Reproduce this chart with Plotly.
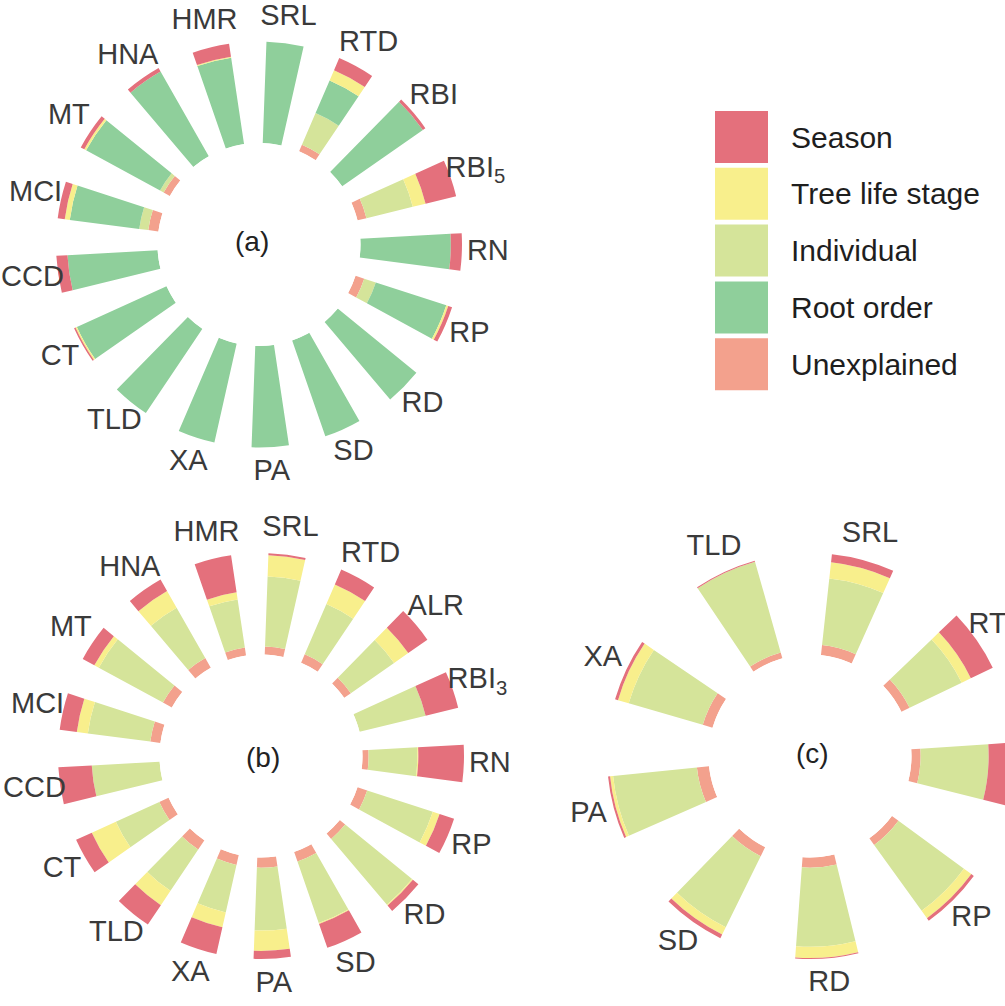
import plotly.graph_objects as go

# colours of the five variance components
PALETTE = {
    "Season": "#E4707C",
    "Tree life stage": "#F8EF8C",
    "Individual": "#D5E49A",
    "Root order": "#8FCF9B",
    "Unexplained": "#F3A18D",
}

# panel (a): percentages explained, inner -> outer
a_traits = ["SRL", "RTD", "RBI", "RBI<sub>5</sub>", "RN", "RP", "RD", "SD", "PA",
            "XA", "TLD", "CT", "CCD", "MCI", "MT", "HNA", "HMR"]
a_unexplained = [0, 7, 0, 9, 0, 9, 0, 0, 0, 0, 0, 0, 0, 10, 7, 0, 0]
a_individual = [0, 34, 0, 47, 0, 12, 0, 0, 0, 0, 0, 0, 0, 9, 4, 0, 0]
a_root_order = [100, 35, 97, 0, 89, 73, 100, 100, 100, 100, 100, 97, 89, 69, 83, 96, 86]
a_tree_stage = [0, 11, 0, 13, 0, 2, 0, 0, 0, 0, 0, 1.5, 0, 5, 2, 0, 1]
a_season = [0, 13, 3, 31, 11, 4, 0, 0, 0, 0, 0, 1.5, 11, 7, 4, 4, 13]

# panel (b)
b_traits = ["SRL", "RTD", "ALR", "RBI<sub>3</sub>", "RN", "RP", "RD", "SD", "PA",
            "XA", "TLD", "CT", "CCD", "MCI", "MT", "HNA", "HMR"]
b_unexplained = [8, 9, 8, 0, 6, 10, 7, 10, 10, 10, 11, 10, 0, 10, 10, 11, 8]
b_individual = [69, 54, 52, 67, 48, 68, 85, 64, 62, 48, 49, 47, 67, 62, 72, 57, 48]
b_tree_stage = [21, 21, 17, 0, 1, 7, 1, 1, 20, 15, 17, 26, 0, 11, 5, 19, 7]
b_season = [2, 16, 23, 33, 45, 15, 7, 25, 8, 27, 23, 17, 33, 17, 13, 13, 37]

# panel (c)
c_traits = ["SRL", "RTD", "RN", "RP", "RD", "SD", "PA", "XA", "TLD"]
c_unexplained = [10, 9, 9, 8, 10, 10, 12, 10, 6]
c_individual = [66, 57, 67, 80, 78, 78, 83, 76, 93]
c_tree_stage = [16, 10, 0, 9, 11, 8, 3, 11, 0]
c_season = [8, 24, 24, 3, 1, 4, 2, 3, 1]

LEGEND_ORDER = ["Season", "Tree life stage", "Individual", "Root order", "Unexplained"]

panels = [
    ("polar", a_traits, [("Unexplained", a_unexplained), ("Individual", a_individual),
                         ("Root order", a_root_order), ("Tree life stage", a_tree_stage),
                         ("Season", a_season)]),
    ("polar2", b_traits, [("Unexplained", b_unexplained), ("Individual", b_individual),
                          ("Tree life stage", b_tree_stage), ("Season", b_season)]),
    ("polar3", c_traits, [("Unexplained", c_unexplained), ("Individual", c_individual),
                          ("Tree life stage", c_tree_stage), ("Season", c_season)]),
]

# geometry (screen pixels): ring from 101.5 px to 203 px, names centred at 229 px
W, H = 1045, 1006   # a bit wider than the window so panel (c) runs off the edge
INNER, OUTER, NAME_AT, DOMAIN_R = 101.5, 203.0, 229.0, 231.0
R_MAX = 100 * (DOMAIN_R - INNER) / (OUTER - INNER)
LABEL_R = 100 * (NAME_AT - INNER) / (OUTER - INNER)


def px(x, y):
    """screen pixel -> paper coordinate"""
    return x / W, 1 - y / H


fig = go.Figure()

for subplot, traits, stack in panels:
    width = 0.45 if subplot == "polar3" else 0.5
    for name, values in stack:
        fig.add_trace(go.Barpolar(
            r=values,
            theta=traits,
            name=name,
            subplot=subplot,
            width=width,
            marker=dict(color=PALETTE[name], line=dict(width=0)),
            showlegend=False,
            hoverinfo="theta+r+name",
        ))
    # trait names around the ring, centred like the original
    fig.add_trace(go.Scatterpolar(
        r=[LABEL_R] * len(traits),
        theta=traits,
        mode="text",
        text=traits,
        textposition="middle center",
        textfont=dict(size=29, color="#3a3a3a"),
        cliponaxis=False,
        subplot=subplot,
        showlegend=False,
        hoverinfo="skip",
    ))


def polar_layout(cx, cy, traits, rotation):
    x0, y1 = px(cx - DOMAIN_R, cy - DOMAIN_R)
    x1, y0 = px(cx + DOMAIN_R, cy + DOMAIN_R)
    return dict(
        domain=dict(x=[x0, x1], y=[y0, y1]),
        hole=INNER / DOMAIN_R,
        bgcolor="rgba(0,0,0,0)",
        barmode="stack",
        radialaxis=dict(visible=False, range=[0, R_MAX]),
        angularaxis=dict(
            type="category",
            categoryorder="array",
            categoryarray=traits,
            direction="clockwise",
            rotation=rotation,
            showline=False,
            showgrid=False,
            showticklabels=False,
            ticks="",
        ),
    )


fig.update_layout(
    width=W,
    height=H,
    margin=dict(l=0, r=0, t=0, b=0),
    paper_bgcolor="white",
    font=dict(family="Arial, Liberation Sans, sans-serif"),
    polar=polar_layout(259, 244.5, a_traits, 82.6),
    polar2=polar_layout(261, 756, b_traits, 82.6),
    polar3=polar_layout(810, 756, c_traits, 74.8),
)

# panel tags in the middle of each ring
for sx, sy, tag in [(252, 242, "(a)"), (263, 757, "(b)"), (812, 753, "(c)")]:
    x, y = px(sx, sy)
    fig.add_annotation(x=x, y=y, xref="paper", yref="paper", text=tag, showarrow=False,
                       xanchor="center", yanchor="middle",
                       font=dict(size=28, color="#222222"))

# legend drawn as big swatches
for i, name in enumerate(LEGEND_ORDER):
    top = 111 + i * 56.8
    x0, y1 = px(715, top)
    x1, y0 = px(768, top + 52)
    fig.add_shape(type="rect", xref="paper", yref="paper",
                  x0=x0, x1=x1, y0=y0, y1=y1,
                  fillcolor=PALETTE[name], line=dict(width=0))
    tx, ty = px(789, top + 26)
    fig.add_annotation(x=tx, y=ty, xref="paper", yref="paper",
                       text=name, showarrow=False, xanchor="left", yanchor="middle",
                       font=dict(size=30, color="#1e1e1e"))

# drop the default 8px page margin so the figure sits flush with the window
fig.write_html("out.html", config={"displayModeBar": False},
               post_script="document.body.style.margin = '0';")
